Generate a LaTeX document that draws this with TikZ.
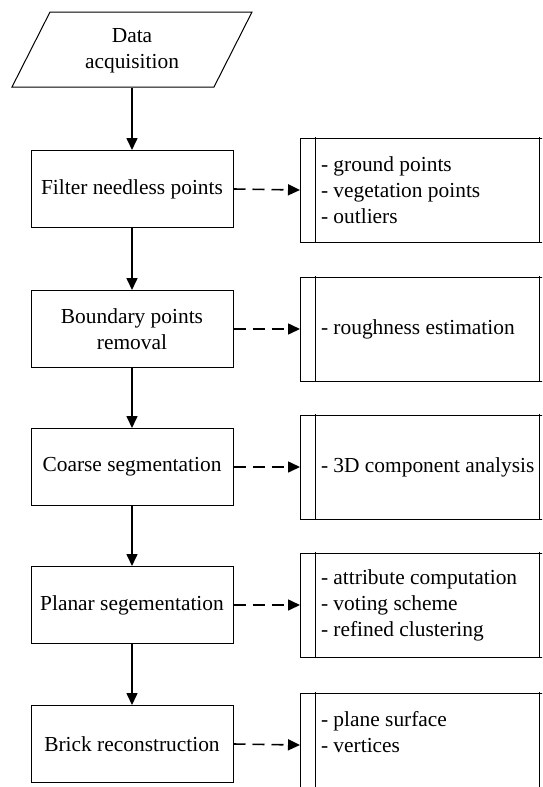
\documentclass[tikz,border=0pt]{standalone}
\usepackage{fontspec}
\setmainfont{Liberation Serif}
\usetikzlibrary{arrows.meta}

\begin{document}
\begin{tikzpicture}[x=1pt,y=-1pt,line cap=rect,
		font=\fontsize{21.4pt}{26pt}\selectfont,
		stepbox/.style={draw, line width=1pt, minimum width=202pt, minimum height=77pt, inner sep=0pt, align=center},
		notebox/.style={draw, line width=1pt, minimum height=104pt, text width=234pt, inner xsep=20.5pt, inner ysep=0pt, align=flush left},
		flow/.style={line width=1.6pt, line cap=butt, -{Triangle[length=12pt,width=11pt]}},
		hint/.style={flow, dash pattern=on 12pt off 7pt}]
	\useasboundingbox (0,0) rectangle (542,787);
	\clip (0,0) rectangle (542,787);
	% input
	\draw [line width=1pt]  (12.0,87.0) -- (50.0,12.0) -- (252.0,12.0) -- (214.0,87.0) -- cycle;
	\node[inner sep=0pt, minimum height=75pt, align=center] (acq) at (132.0,50.5) {Data\\acquisition};
	% processing steps
	\node[stepbox] (filter)   at (132.0,189.0) {Filter needless points};
	\node[stepbox] (boundary) at (132.0,329.0) {Boundary points\\removal};
	\node[stepbox] (coarse)   at (132.0,467.0) {Coarse segmentation};
	\node[stepbox] (planar)   at (132.0,605.0) {Planar segementation};
	\node[stepbox] (brick)    at (132.0,744.0) {Brick reconstruction};
	% notes (right end runs off the page)
	\node[notebox, anchor=west] (filter-note)   at (300.0,190.0) {- ground points\\- vegetation points\\- outliers};
	\node[notebox, anchor=west] (boundary-note) at (300.0,329.0) {- roughness estimation};
	\node[notebox, anchor=west] (coarse-note)   at (300.0,467.0) {- 3D component analysis};
	\node[notebox, anchor=west] (planar-note)   at (300.0,605.0) {- attribute computation\\- voting scheme\\- refined clustering};
	\node[notebox, anchor=west] (brick-note)    at (300.0,745.0) {- plane surface\\- vertices\\\mbox{}};
	\foreach \n in {filter,boundary,coarse,planar,brick}
		\draw [line width=1pt]  ([xshift=15pt]\n-note.north west) -- ([xshift=15pt]\n-note.south west)
			([xshift=239pt]\n-note.north west) -- ([xshift=239pt]\n-note.south west);
	% connectors
	\draw [flow]  (acq.south) -- (filter.north);
	\foreach \a/\b in {filter/boundary,boundary/coarse,coarse/planar,planar/brick}
		\draw [flow]  (\a.south) -- (\b.north);
	\foreach \n in {filter,boundary,coarse,planar,brick}
		\draw [hint]  (\n.east) -- (\n-note.west);
\end{tikzpicture}
\end{document}
